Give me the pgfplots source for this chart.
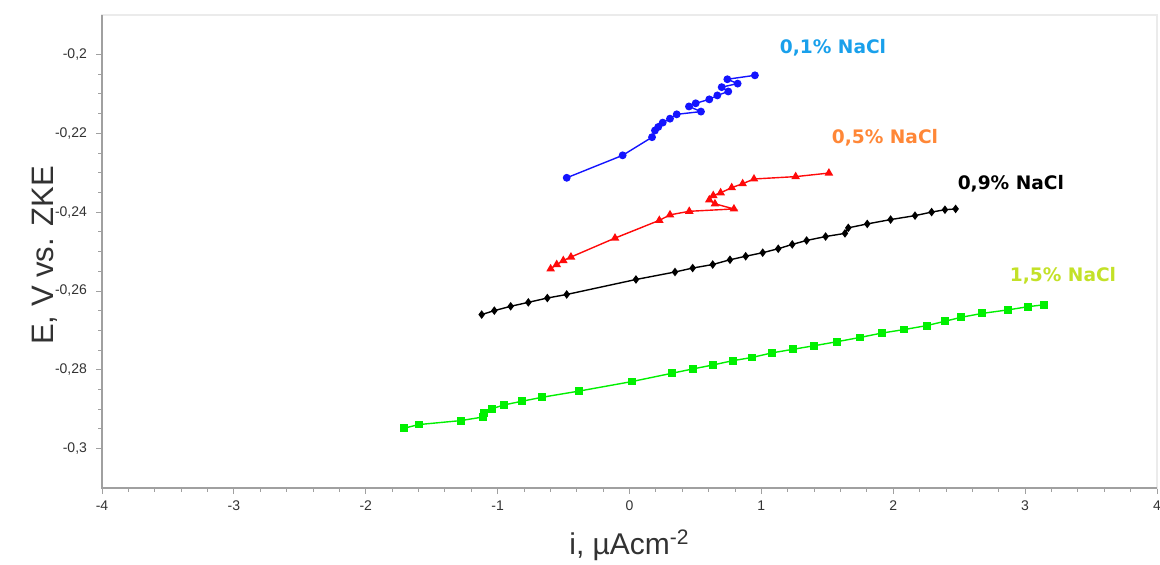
\documentclass[border=0pt]{standalone}
\usepackage{fontspec}
\setmainfont{Liberation Sans}
\newfontfamily\labfont{DejaVu Sans}
\usepackage{pgfplots}
\pgfplotsset{compat=1.18}
\definecolor{lblblue}{RGB}{25,160,235}
\definecolor{lblorange}{RGB}{255,135,55}
\definecolor{lblgreen}{RGB}{195,225,40}
\definecolor{ser blue}{RGB}{20,20,255}
\definecolor{ser red}{RGB}{255,10,10}
\definecolor{ser green}{RGB}{0,240,0}
\definecolor{axisgray}{RGB}{160,160,160}
\definecolor{textgray}{RGB}{50,50,50}
\begin{document}
\begin{tikzpicture}
\path[use as bounding box] (0,0) rectangle (580pt,282pt);
\begin{axis}[
  at={(51pt,38pt)}, anchor=south west,
  scale only axis, width=527.5pt, height=236.5pt,
  xmin=-4, xmax=4, ymin=-0.31, ymax=-0.19,
  xtick={-4,-3,-2,-1,0,1,2,3,4},
  ytick={-0.3,-0.28,-0.26,-0.24,-0.22,-0.2},
  minor x tick num=4, minor y tick num=3,
  tick align=outside, tick pos=left,
  major tick length=3pt, minor tick length=1.8pt,
  every tick/.style={axisgray, line width=0.4pt},
  axis line style={draw=black!8, line width=0.6pt},
  /pgf/number format/use comma,
  /pgf/number format/assume math mode=true,
  yticklabel style={/pgf/number format/fixed, /pgf/number format/precision=2, xshift=-1pt},
  ticklabel style={font=\fontsize{7}{8}\selectfont, text=textgray},
  xlabel={i, µAcm\textsuperscript{-2}},
  ylabel={E, V vs. ZKE},
  every axis x label/.style={at={(axis description cs:0.5,0)}, anchor=center, yshift=-28.5pt, font=\fontsize{15}{17}\selectfont, text=textgray},
  every axis y label/.style={at={(axis description cs:0,0.5)}, anchor=center, rotate=90, yshift=28.5pt, xshift=-2pt, font=\fontsize{15.5}{17}\selectfont, text=textgray},
  clip=false,
]
% 0,1% NaCl
\addplot[ser blue, line width=0.7pt, mark=*, mark size=1.6pt] coordinates {
(-0.476,-0.2313) (-0.052,-0.2256) (0.171,-0.2210) (0.193,-0.2193) (0.218,-0.2184)
(0.252,-0.2173) (0.307,-0.2163) (0.358,-0.2152) (0.542,-0.2145) (0.451,-0.2132)
(0.502,-0.2124) (0.605,-0.2114) (0.666,-0.2104) (0.749,-0.2094) (0.699,-0.2083)
(0.820,-0.2074) (0.742,-0.2063) (0.951,-0.2053)
};
% 0,5% NaCl
\addplot[ser red, line width=0.7pt, mark=triangle*, mark size=1.8pt] coordinates {
(-0.598,-0.2544) (-0.552,-0.2533) (-0.502,-0.2523) (-0.444,-0.2514) (-0.110,-0.2466)
(0.226,-0.2421) (0.307,-0.2407) (0.453,-0.2398) (0.792,-0.2392) (0.648,-0.2379)
(0.605,-0.2369) (0.635,-0.2358) (0.691,-0.2351) (0.775,-0.2338) (0.858,-0.2328)
(0.944,-0.2316) (1.260,-0.2310) (1.512,-0.2301)
};
% 0,9% NaCl
\addplot[black, line width=0.7pt, mark=diamond*, mark size=1.6pt] coordinates {
(-1.121,-0.2660) (-1.025,-0.2650) (-0.901,-0.2639) (-0.767,-0.2629) (-0.623,-0.2618)
(-0.476,-0.2609) (0.049,-0.2571) (0.345,-0.2552) (0.479,-0.2542) (0.631,-0.2533)
(0.762,-0.2521) (0.881,-0.2512) (1.010,-0.2503) (1.128,-0.2493) (1.234,-0.2482)
(1.343,-0.2472) (1.487,-0.2462) (1.634,-0.2454) (1.659,-0.2440) (1.803,-0.2430)
(1.980,-0.2419) (2.165,-0.2409) (2.291,-0.2400) (2.392,-0.2394) (2.473,-0.2392)
};
% 1,5% NaCl
\addplot[ser green, line width=0.7pt, mark=square*, mark size=1.6pt] coordinates {
(-1.707,-0.2948) (-1.596,-0.2939) (-1.280,-0.2929) (-1.113,-0.2920) (-1.103,-0.2910)
(-1.045,-0.2899) (-0.949,-0.2889) (-0.817,-0.2880) (-0.666,-0.2870) (-0.381,-0.2854)
(0.017,-0.2830) (0.320,-0.2809) (0.479,-0.2798) (0.631,-0.2788) (0.782,-0.2777)
(0.926,-0.2769) (1.083,-0.2757) (1.242,-0.2748) (1.401,-0.2739) (1.571,-0.2729)
(1.748,-0.2718) (1.912,-0.2707) (2.083,-0.2698) (2.253,-0.2688) (2.392,-0.2677)
(2.513,-0.2667) (2.675,-0.2657) (2.872,-0.2648) (3.023,-0.2640) (3.145,-0.2635)
};
\draw[axisgray, line width=0.6pt] (rel axis cs:0,1) -- (rel axis cs:0,0) -- (rel axis cs:1,0);
\node[font=\labfont\bfseries\fontsize{9.3}{11}\selectfont, text=lblblue] at (axis cs:1.543,-0.1982) {0,1\% NaCl};
\node[font=\labfont\bfseries\fontsize{9.3}{11}\selectfont, text=lblorange] at (axis cs:1.937,-0.2211) {0,5\% NaCl};
\node[font=\labfont\bfseries\fontsize{9.3}{11}\selectfont, text=black] at (axis cs:2.892,-0.2327) {0,9\% NaCl};
\node[font=\labfont\bfseries\fontsize{9.3}{11}\selectfont, text=lblgreen] at (axis cs:3.287,-0.2561) {1,5\% NaCl};
\end{axis}
\end{tikzpicture}
\end{document}
